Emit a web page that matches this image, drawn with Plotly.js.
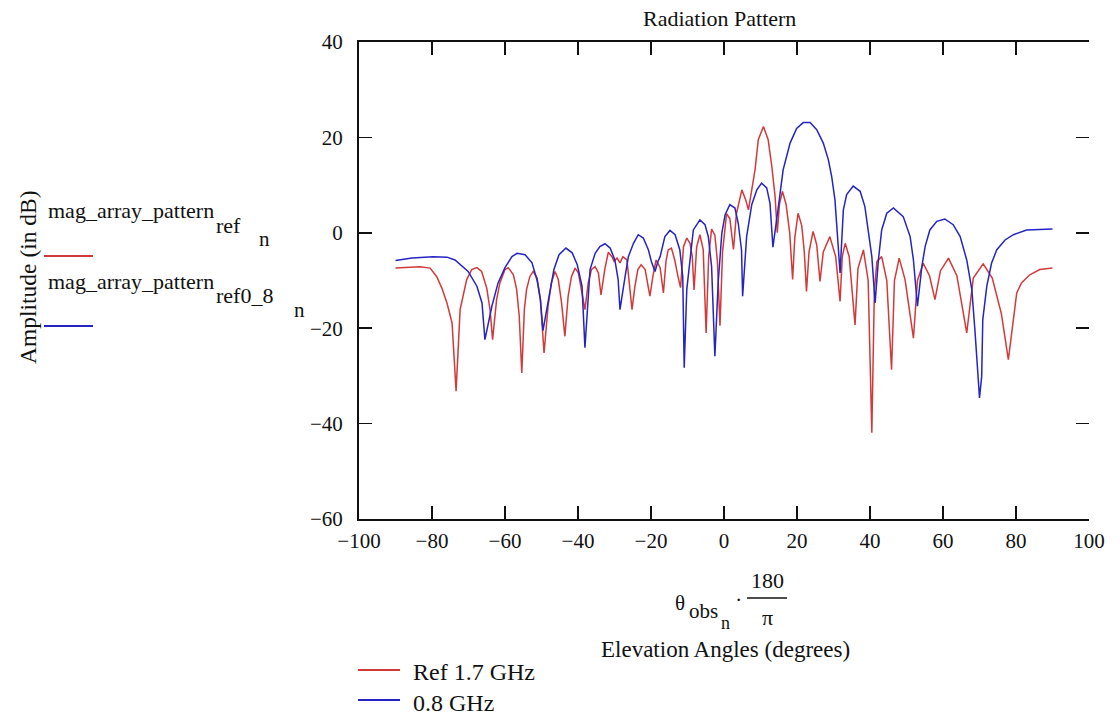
<!DOCTYPE html>
<html>
<head>
<meta charset="utf-8">
<script src="https://cdn.plot.ly/plotly-3.0.1.min.js"></script>
<style>
  html, body { margin: 0; padding: 0; background: #ffffff; }
  #chart { width: 1119px; height: 721px; }
</style>
</head>
<body>
<div id="chart"></div>
<script>
// ---- Data ----
const xTicks = [-100, -80, -60, -40, -20, 0, 20, 40, 60, 80, 100];
const yTicks = [-60, -40, -20, 0, 20, 40];

// Ref 1.7 GHz  (mag_array_pattern_ref)
const angleRef = [
  -90, -87, -83.3, -80.5, -78.7, -77.3, -75.9, -74.5, -73.4, -72.3, -71.4, -70.5, -69.1, -67.7,
  -66.4, -65.0, -64.1, -63.4, -62.3, -61.4, -60.0, -59.1, -57.7, -56.8, -56.1, -55.4, -54.7,
  -54.1, -53.2, -52.3, -51.2, -50.3, -49.3, -48.2, -47.3, -46.3, -45.4, -44.5, -43.6, -42.7,
  -41.8, -40.8, -39.9, -39.0, -38.1, -37.2, -36.3, -35.3, -34.4, -33.7, -32.6, -31.7, -30.7,
  -30.1, -29.3, -28.5, -27.7, -26.6, -25.8, -25.2, -24.4, -23.6, -22.7, -21.6, -20.8, -20.3,
  -19.5, -18.6, -17.5, -16.6, -15.9, -15.3, -14.4, -13.5, -12.6, -11.9, -11.1, -10.2, -9.3,
  -8.7, -8.2, -7.5, -6.6, -5.7, -4.9, -4.2, -3.4, -2.5, -1.8, -1.1, -0.4, 0.7, 1.6, 2.6, 3.4,
  4.9, 5.9, 6.7, 7.6, 8.5, 9.4, 10.8, 12.1, 13.1, 14.0, 14.6, 15.2, 16.0, 17.0, 18.0, 18.8,
  19.4, 20.3, 21.3, 22.0, 22.6, 23.3, 24.4, 25.4, 26.3, 27.2, 29.0, 30.6, 31.8, 32.4, 33.2,
  34.3, 35.9, 36.7, 38.2, 39.5, 40.5, 41.2, 41.9, 43.2, 44.6, 45.9, 46.7, 48.0, 49.6, 51.9,
  53.0, 54.6, 56.3, 57.8, 59.3, 61.5, 63.8, 66.5, 68.3, 71.0, 73.5, 76.0, 77.9, 80.2, 81.5,
  83.8, 86.5, 90
];
const magRef = [
  -7.4, -7.3, -7.1, -7.4, -9.2, -11.6, -14.7, -18.9, -33.2, -16.1, -12.6, -9.8, -7.7, -7.3,
  -8.1, -11.6, -16.1, -22.4, -14.0, -10.5, -7.7, -7.3, -8.8, -11.9, -17.5, -29.4, -16.1,
  -11.9, -9.2, -8.1, -9.5, -14.0, -25.2, -15.4, -10.5, -8.1, -9.8, -14.7, -21.7, -13.3,
  -9.2, -7.4, -8.4, -11.9, -16.1, -10.5, -7.7, -7.1, -8.4, -13.0, -7.4, -4.1, -5.0,
  -6.0, -5.3, -6.3, -5.0, -5.7, -11.2, -16.1, -11.2, -7.7, -6.7, -7.7, -11.2, -13.3,
  -9.2, -5.7, -7.3, -12.6, -6.0, -3.6, -3.2, -5.7, -9.2, -11.5, -2.9, -1.1, -2.2,
  -5.0, -12.0, -3.0, -0.4, -3.5, -21.0, -5.0, 0.8, -0.5, -6.0, -19.5, -4.0, 4.0, 3.0, -3.5, 4.0,
  9.0, 7.0, 4.8, 9.0, 13.2, 19.5, 22.3, 19.5, 13.9, 7.6, 0.0, 6.0, 8.7, 6.0, 0.0, -9.8,
  -1.0, 4.1, 1.5, -4.0, -12.3, -4.0, 0.3, -2.5, -10.2, -4.0, -0.8, -5.0, -14.4, -5.0, -2.2,
  -5.0, -19.3, -7.5, -3.6, -10.0, -41.9, -12.0, -6.0, -5.0, -10.0, -28.7, -10.0, -5.3, -9.8, -22.1,
  -10.0, -6.4, -9.0, -14.0, -8.0, -5.3, -9.0, -21.0, -9.5, -6.5, -9.5, -17.0, -26.6, -12.6, -10.5,
  -8.8, -7.7, -7.4
];

// 0.8 GHz  (mag_array_pattern_ref0_8)
const angle08 = [
  -90, -85.5, -79.7, -75.9, -73.7, -70.1, -67.7, -66.3, -65.5, -63.6, -61.9, -60.0, -58.1,
  -56.7, -54.5, -52.6, -51.2, -50.3, -49.6, -46.6, -45.2, -43.3, -41.6, -40.2, -38.9, -38.1,
  -36.7, -35.3, -34.0, -32.6, -31.2, -29.9, -29.0, -28.5, -27.1, -26.2, -24.8, -23.5, -22.1,
  -20.7, -19.9, -18.9, -18.1, -17.5, -16.2, -14.8, -13.4, -12.1, -11.3, -10.9, -10.2, -9.3,
  -8.4, -6.6, -5.2, -4.3, -3.4, -2.5, -1.6, -0.6, 0.3, 1.6, 3.0, 3.9, 4.8, 5.1, 6.2, 7.6, 9.0,
  10.3, 11.7, 12.6, 13.4, 14.9, 16.2, 18.1, 19.9, 21.7, 23.6, 25.4, 27.2, 28.6, 29.5, 30.4,
  31.0, 31.8, 32.7, 33.6, 35.4, 37.3, 38.6, 39.5, 40.5, 41.4, 42.3, 43.2, 44.6, 46.4, 49.1,
  51.0, 51.9, 53.0, 54.2, 55.1, 56.4, 58.3, 60.5, 62.8, 64.7, 66.5, 67.9, 68.8, 70.0, 70.6,
  70.9, 72.0, 73.3, 74.7, 77.0, 79.3, 82.9, 90
];
const mag08 = [
  -5.8, -5.3, -5.0, -5.1, -5.7, -8.1, -11.2, -14.7, -22.4, -15.4, -10.5, -7.3, -5.0,
  -4.3, -4.6, -6.3, -10.0, -14.0, -20.5, -7.7, -4.6, -3.2, -4.2, -6.7, -11.2, -24.1,
  -7.7, -4.3, -2.9, -2.3, -3.2, -5.7, -9.8, -16.1, -9.2, -5.0, -2.2, -0.4, -1.1,
  -3.6, -6.0, -8.1, -6.0, -5.0, -0.8, 0.5, -0.4, -3.6, -9.2, -28.3, -11.9, -5.7,
  0.6, 2.7, 1.7, -0.8, -7.1, -25.9, -10.5, -0.1, 3.8, 5.9, 5.2, 2.0, -3.6, -13.3, -0.8, 5.9, 9.0,
  10.4, 9.4, 6.2, -3.0, 5.5, 13.2, 18.8, 21.9, 23.1, 23.1, 21.6, 18.8, 15.3, 11.8, 6.9,
  -0.1, -8.4, 4.8, 8.0, 9.8, 8.7, 5.5, 0.6, -5.0, -14.7, -5.7, 0.6, 4.1, 5.2, 3.4,
  -0.8, -5.7, -15.4, -7.1, -2.9, 0.6, 2.4, 2.9, 1.7, -0.8, -5.7, -11.9, -21.0, -34.6, -30.1,
  -18.2, -11.2, -6.4, -3.6, -1.5, -0.4, 0.6, 0.8
];

const seriesNames = ['Ref 1.7 GHz', '0.8 GHz'];
const seriesColors = ['#d23a3a', '#2424c4'];

// ---- Layout helpers (pixel -> paper) ----
const W = 1119, H = 721;
const M = { l: 359, r: 30, t: 42, b: 202 };
const PW = W - M.l - M.r, PH = H - M.t - M.b;
const px = x => (x - M.l) / PW;
const py = y => (H - M.b - y) / PH;

const FONT = 'Liberation Serif';
const ink = '#111111';

function ann(text, x, y, size, opts) {
  return Object.assign({
    text: text, xref: 'paper', yref: 'paper', x: px(x), y: py(y),
    showarrow: false, xanchor: 'left', yanchor: 'middle',
    font: { family: FONT, size: size, color: ink }
  }, opts || {});
}

const annotations = [
  ann('Radiation Pattern', 719, 18, 22, { xanchor: 'center' }),
  ann('Amplitude (in dB)', 28, 277, 23.5, { textangle: -90, xanchor: 'center' }),
  // left legend (Mathcad style)
  ann('mag_array_pattern', 46, 210, 22),
  ann('ref', 214, 226, 22),
  ann('n', 257, 239, 21),
  ann('mag_array_pattern', 46, 281, 22),
  ann('ref0_8', 214, 295, 22),
  ann('n', 292, 310, 21),
  // x axis label expression
  ann('θ', 673, 603, 21),
  ann('obs', 687, 611, 21),
  ann('n', 719, 623, 18),
  ann('·', 733, 599, 22),
  ann('180', 767, 580, 22, { xanchor: 'center' }),
  ann('π', 767, 617, 22, { xanchor: 'center' }),
  ann('Elevation Angles (degrees)', 725, 649, 23, { xanchor: 'center' }),
  // bottom legend
  ann(seriesNames[0], 411, 672, 24),
  ann(seriesNames[1], 411, 703, 24)
];

const shapes = [
  { type: 'line', xref: 'paper', yref: 'paper', x0: px(44), x1: px(93), y0: py(256), y1: py(256),
    line: { color: seriesColors[0], width: 2 } },
  { type: 'line', xref: 'paper', yref: 'paper', x0: px(44), x1: px(93), y0: py(326), y1: py(326),
    line: { color: seriesColors[1], width: 2 } },
  { type: 'line', xref: 'paper', yref: 'paper', x0: px(747), x1: px(787), y0: py(598), y1: py(598),
    line: { color: ink, width: 1.5 } },
  { type: 'line', xref: 'paper', yref: 'paper', x0: px(358), x1: px(400), y0: py(670), y1: py(670),
    line: { color: seriesColors[0], width: 2 } },
  { type: 'line', xref: 'paper', yref: 'paper', x0: px(358), x1: px(400), y0: py(700), y1: py(700),
    line: { color: seriesColors[1], width: 2 } }
];

const traces = [
  { x: angleRef, y: magRef, name: seriesNames[0], type: 'scatter', mode: 'lines',
    line: { color: seriesColors[0], width: 1.5 } },
  { x: angle08, y: mag08, name: seriesNames[1], type: 'scatter', mode: 'lines',
    line: { color: seriesColors[1], width: 1.5 } },
  { x: [], y: [], yaxis: 'y2', showlegend: false, hoverinfo: 'skip', type: 'scatter' }
];

const layout = {
  width: W, height: H,
  margin: { l: M.l, r: M.r, t: M.t, b: M.b, pad: 0 },
  paper_bgcolor: '#ffffff', plot_bgcolor: '#ffffff',
  showlegend: false,
  font: { family: FONT, size: 21, color: ink },
  xaxis: {
    range: [-100, 100], tickmode: 'array', tickvals: xTicks,
    ticks: 'inside', ticklen: 13, tickwidth: 1.5, tickcolor: ink,
    showline: true, linecolor: ink, linewidth: 2, mirror: 'ticks',
    showgrid: false, zeroline: false, ticklabelstandoff: 2,
    tickfont: { family: FONT, size: 21, color: ink }
  },
  yaxis: {
    range: [-60, 40], tickmode: 'array', tickvals: yTicks,
    ticks: 'inside', ticklen: 13, tickwidth: 1.5, tickcolor: ink,
    showline: true, linecolor: ink, linewidth: 2,
    showgrid: false, zeroline: false, ticklabelstandoff: 10,
    tickfont: { family: FONT, size: 21, color: ink }
  },
  yaxis2: {
    overlaying: 'y', side: 'right', range: [-60, 40], tickmode: 'array', tickvals: yTicks,
    ticks: 'inside', ticklen: 13, tickwidth: 1.5, tickcolor: ink,
    showline: false, showticklabels: false, showgrid: false, zeroline: false
  },
  annotations: annotations,
  shapes: shapes
};

Plotly.newPlot('chart', traces, layout, { displayModeBar: false, staticPlot: true });
</script>
</body>
</html>
